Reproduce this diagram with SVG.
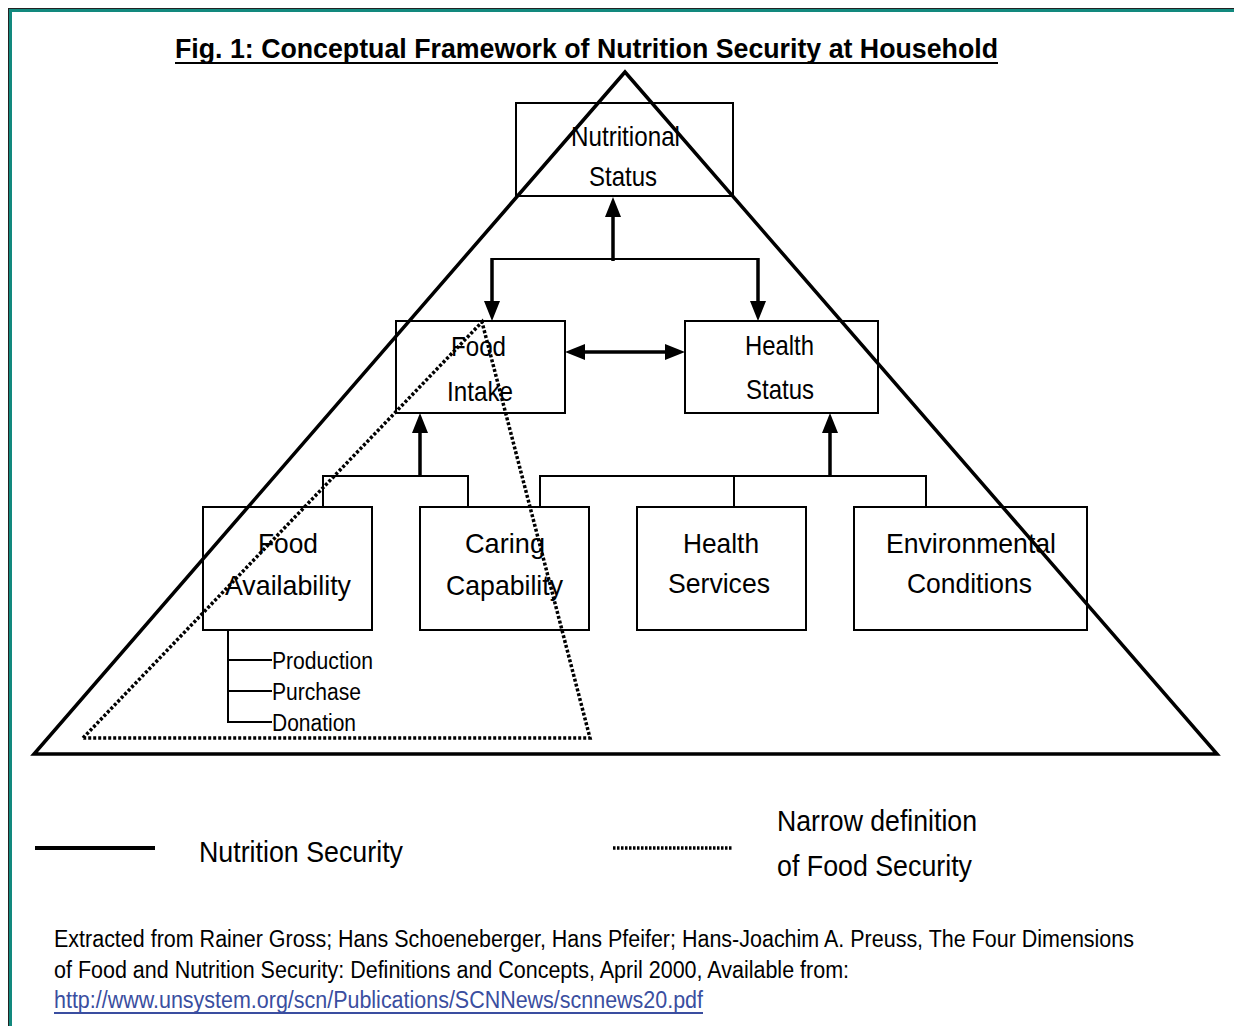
<svg xmlns="http://www.w3.org/2000/svg" width="1234" height="1026" viewBox="0 0 1234 1026">
<defs>
<style>
.t{font-family:"Liberation Sans Narrow","Liberation Sans",Arial,sans-serif;fill:#000;}
.n{font-size:28px;}
.s{font-size:23px;}
.box{fill:none;stroke:#000;stroke-width:2;}
.thin{fill:none;stroke:#000;stroke-width:2;}
.thick{fill:none;stroke:#000;stroke-width:3.5;}
.dot{fill:none;stroke:#000;stroke-width:3.5;stroke-dasharray:3 2;}
</style>
<marker id="ah" markerUnits="userSpaceOnUse" markerWidth="20" markerHeight="16" refX="0" refY="8" orient="auto" viewBox="0 0 20 16">
<path d="M0,0 L20,8 L0,16 z" fill="#000"/>
</marker>
</defs>
<rect width="1234" height="1026" fill="#fff"/>
<rect x="8.5" y="8.5" width="1240" height="1040" fill="none" stroke="#222" stroke-width="1"/>
<rect x="10.5" y="10.5" width="1240" height="1040" fill="none" stroke="#12897e" stroke-width="3"/>

<g id="title">
<text class="t" x="175" y="58" font-size="27" font-weight="bold" textLength="823" lengthAdjust="spacingAndGlyphs">Fig. 1: Conceptual Framework of Nutrition Security at Household</text>
<line x1="175" y1="63" x2="998" y2="63" stroke="#000" stroke-width="2"/>
</g>

<g id="nutritional-status">
<rect class="box" x="516" y="103" width="217" height="93"/>
<text class="t n" x="571" y="146" textLength="109" lengthAdjust="spacingAndGlyphs">Nutritional</text>
<text class="t n" x="589" y="186" textLength="68" lengthAdjust="spacingAndGlyphs">Status</text>
</g>

<g id="food-intake">
<rect class="box" x="396" y="321" width="169" height="92"/>
<text class="t n" x="451" y="356" textLength="55" lengthAdjust="spacingAndGlyphs">Food</text>
<text class="t n" x="447" y="401" textLength="66" lengthAdjust="spacingAndGlyphs">Intake</text>
</g>

<g id="health-status">
<rect class="box" x="685" y="321" width="193" height="92"/>
<text class="t n" x="745" y="355" textLength="69" lengthAdjust="spacingAndGlyphs">Health</text>
<text class="t n" x="746" y="399" textLength="68" lengthAdjust="spacingAndGlyphs">Status</text>
</g>

<g id="food-availability">
<rect class="box" x="203" y="507" width="169" height="123"/>
<text class="t n" x="258" y="553" textLength="60" lengthAdjust="spacingAndGlyphs">Food</text>
<text class="t n" x="225" y="595" textLength="126" lengthAdjust="spacingAndGlyphs">Availability</text>
</g>

<g id="caring-capability">
<rect class="box" x="420" y="507" width="169" height="123"/>
<text class="t n" x="465" y="553" textLength="80" lengthAdjust="spacingAndGlyphs">Caring</text>
<text class="t n" x="446" y="595" textLength="117" lengthAdjust="spacingAndGlyphs">Capability</text>
</g>

<g id="health-services">
<rect class="box" x="637" y="507" width="169" height="123"/>
<text class="t n" x="683" y="553" textLength="76" lengthAdjust="spacingAndGlyphs">Health</text>
<text class="t n" x="668" y="593" textLength="102" lengthAdjust="spacingAndGlyphs">Services</text>
</g>

<g id="environmental-conditions">
<rect class="box" x="854" y="507" width="233" height="123"/>
<text class="t n" x="886" y="553" textLength="170" lengthAdjust="spacingAndGlyphs">Environmental</text>
<text class="t n" x="907" y="593" textLength="125" lengthAdjust="spacingAndGlyphs">Conditions</text>
</g>

<g id="food-sources">
<text class="t s" x="272" y="669" textLength="101" lengthAdjust="spacingAndGlyphs">Production</text>
<text class="t s" x="272" y="700" textLength="89" lengthAdjust="spacingAndGlyphs">Purchase</text>
<text class="t s" x="272" y="731" textLength="84" lengthAdjust="spacingAndGlyphs">Donation</text>
</g>

<g id="connectors">
<line class="thick" x1="613" y1="261" x2="613" y2="217" marker-end="url(#ah)"/>
<line class="thin" x1="492" y1="259" x2="758" y2="259"/>
<line class="thick" x1="492" y1="258" x2="492" y2="301" marker-end="url(#ah)"/>
<line class="thick" x1="758" y1="258" x2="758" y2="301" marker-end="url(#ah)"/>
<line class="thick" x1="585" y1="352" x2="665" y2="352" marker-end="url(#ah)"/>
<path d="M565,352 L585,344 L585,360 z" fill="#000"/>
<line class="thick" x1="420" y1="477" x2="420" y2="433" marker-end="url(#ah)"/>
<path class="thin" d="M323,507 V476 H468 V507"/>
<line class="thick" x1="830" y1="477" x2="830" y2="433" marker-end="url(#ah)"/>
<path class="thin" d="M540,507 V476 H926 V507 M734,476 V507"/>
<path class="thin" d="M228,630 V722 H272 M228,660 H272 M228,691 H272"/>
</g>

<g id="nutrition-security-triangle">
<polygon points="625,72 34,754 1217,754" fill="none" stroke="#000" stroke-width="3.5" stroke-linejoin="miter"/>
</g>
<g id="food-security-triangle">
<polygon class="dot" points="83,738 482,322 590,738"/>
</g>

<g id="legend">
<line x1="35" y1="848" x2="155" y2="848" stroke="#000" stroke-width="4"/>
<text class="t" x="199" y="862" font-size="29" textLength="204" lengthAdjust="spacingAndGlyphs">Nutrition Security</text>
<line class="dot" x1="613" y1="848" x2="733" y2="848" style="stroke-dasharray:2.5 1.5;stroke-width:3.5"/>
<text class="t" x="777" y="831" font-size="29" textLength="200" lengthAdjust="spacingAndGlyphs">Narrow definition</text>
<text class="t" x="777" y="876" font-size="29" textLength="195" lengthAdjust="spacingAndGlyphs">of Food Security</text>
</g>

<g id="source">
<text class="t" x="54" y="947" font-size="23" textLength="1080" lengthAdjust="spacingAndGlyphs">Extracted from Rainer Gross; Hans Schoeneberger, Hans Pfeifer; Hans-Joachim A. Preuss, The Four Dimensions</text>
<text class="t" x="54" y="978" font-size="23" textLength="795" lengthAdjust="spacingAndGlyphs">of Food and Nutrition Security: Definitions and Concepts, April 2000, Available from:</text>
<text class="t" x="54" y="1008" font-size="23" style="fill:#3a4ea0" textLength="649" lengthAdjust="spacingAndGlyphs">http://www.unsystem.org/scn/Publications/SCNNews/scnnews20.pdf</text>
<line x1="54" y1="1013" x2="703" y2="1013" stroke="#3a4ea0" stroke-width="2"/>
</g>
</svg>
